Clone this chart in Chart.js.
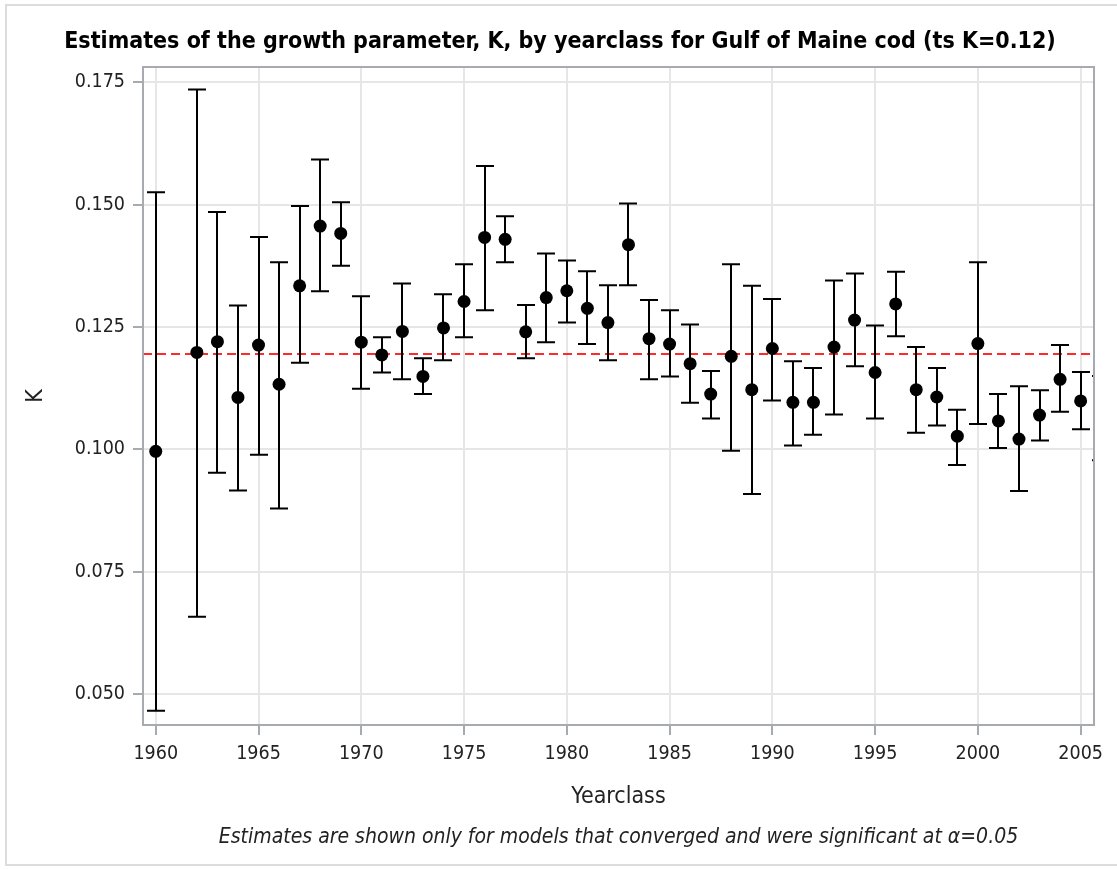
<!DOCTYPE html>
<html>
<head>
<meta charset="utf-8">
<script src="https://cdn.jsdelivr.net/npm/chart.js@4"></script>
<style>
  html, body { margin: 0; padding: 0; background: #fff; }
  #wrap { position: relative; width: 1117px; height: 869px; }
  #frame { position: absolute; left: 5px; top: 4px; right: -2px; bottom: 3px; border: 2px solid #dcdcdc; border-right: none; pointer-events: none; }
  canvas { position: absolute; left: 0; top: 0; }
</style>
</head>
<body>
<div id="wrap">
  <canvas id="kChart" width="1117" height="869"></canvas>
  <div id="frame"></div>
</div>
<script>
  // yearclass estimates of K with 95% limits
  const years = [1960, 1962, 1963, 1964, 1965, 1966, 1967, 1968, 1969, 1970,
    1971, 1972, 1973, 1974, 1975, 1976, 1977, 1978, 1979, 1980,
    1981, 1982, 1983, 1984, 1985, 1986, 1987, 1988, 1989, 1990,
    1991, 1992, 1993, 1994, 1995, 1996, 1997, 1998, 1999, 2000,
    2001, 2002, 2003, 2004, 2005, 2006];
  const kEstimate = [0.0996, 0.1198, 0.1220, 0.1106, 0.1213, 0.1133, 0.1334, 0.1456, 0.1441, 0.1219,
    0.1193, 0.1241, 0.1149, 0.1248, 0.1302, 0.1433, 0.1429, 0.1240, 0.1310, 0.1324,
    0.1288, 0.1259, 0.1418, 0.1226, 0.1215, 0.1175, 0.1113, 0.1190, 0.1122, 0.1206,
    0.1096, 0.1096, 0.1209, 0.1264, 0.1157, 0.1297, 0.1122, 0.1107, 0.1027, 0.1216,
    0.1058, 0.1021, 0.1070, 0.1143, 0.1099, 0.1063];
  const kLower = [0.0466, 0.0658, 0.0952, 0.0916, 0.0989, 0.0879, 0.1177, 0.1323, 0.1375, 0.1124,
    0.1157, 0.1143, 0.1113, 0.1182, 0.1229, 0.1284, 0.1382, 0.1186, 0.1219, 0.1259,
    0.1215, 0.1182, 0.1335, 0.1143, 0.1149, 0.1095, 0.1063, 0.0997, 0.0909, 0.1100,
    0.1008, 0.1030, 0.1071, 0.1170, 0.1063, 0.1231, 0.1034, 0.1049, 0.0968, 0.1052,
    0.1003, 0.0915, 0.1018, 0.1077, 0.1041, 0.0978];
  const kUpper = [0.1525, 0.1735, 0.1485, 0.1294, 0.1434, 0.1382, 0.1497, 0.1592, 0.1505, 0.1313,
    0.1229, 0.1339, 0.1186, 0.1317, 0.1378, 0.1579, 0.1476, 0.1295, 0.1400, 0.1386,
    0.1364, 0.1335, 0.1502, 0.1305, 0.1284, 0.1255, 0.1160, 0.1378, 0.1334, 0.1307,
    0.1180, 0.1166, 0.1345, 0.1359, 0.1253, 0.1363, 0.1209, 0.1166, 0.1081, 0.1382,
    0.1113, 0.1129, 0.1121, 0.1213, 0.1158, 0.1150];
  const refK = 0.1195;
  const xTicks = [1960, 1965, 1970, 1975, 1980, 1985, 1990, 1995, 2000, 2005];
  const yTicks = [0.050, 0.075, 0.100, 0.125, 0.150, 0.175];

  const FONT = "'DejaVu Sans Condensed', 'Liberation Sans', Arial, sans-serif";

  const errorBars = {
    id: 'errorBars',
    beforeDatasetsDraw(chart) {
      const { ctx, chartArea: a, scales: { x, y } } = chart;
      ctx.save();
      ctx.beginPath();
      ctx.rect(a.left, a.top, a.width, a.height);
      ctx.clip();

      const yr = y.getPixelForValue(refK);
      ctx.strokeStyle = '#ff2a2a';
      ctx.lineWidth = 2;
      ctx.setLineDash([9, 5]);
      ctx.beginPath();
      ctx.moveTo(a.left, yr);
      ctx.lineTo(a.right, yr);
      ctx.stroke();
      ctx.setLineDash([]);

      ctx.strokeStyle = '#000';
      ctx.lineWidth = 2;
      const cap = 9;
      years.forEach((yc, i) => {
        const px = Math.round(x.getPixelForValue(yc));
        const lo = y.getPixelForValue(kLower[i]);
        const hi = y.getPixelForValue(kUpper[i]);
        ctx.beginPath();
        ctx.moveTo(px, lo); ctx.lineTo(px, hi);
        ctx.moveTo(px - cap, lo); ctx.lineTo(px + cap, lo);
        ctx.moveTo(px - cap, hi); ctx.lineTo(px + cap, hi);
        ctx.stroke();
      });
      ctx.restore();
    },
    afterDraw(chart) {
      const { ctx, chartArea: a } = chart;
      ctx.save();
      ctx.strokeStyle = '#a7abaf';
      ctx.lineWidth = 2;
      ctx.strokeRect(a.left, a.top, a.width, a.height);
      ctx.restore();
    }
  };

  new Chart(document.getElementById('kChart'), {
    type: 'scatter',
    data: {
      datasets: [{
        label: 'K',
        data: years.map((yc, i) => ({ x: yc, y: kEstimate[i] })),
        pointRadius: 6.5,
        pointHoverRadius: 6.5,
        pointBackgroundColor: '#000',
        pointBorderColor: '#000',
        pointBorderWidth: 0
      }]
    },
    plugins: [errorBars],
    options: {
      responsive: false,
      animation: false,
      events: [],
      layout: { padding: { left: 26, right: 23, top: 0, bottom: 18.4 } },
      plugins: {
        legend: { display: false },
        tooltip: { enabled: false },
        title: {
          display: true,
          text: 'Estimates of the growth parameter, K, by yearclass for Gulf of Maine cod (ts K=0.12)',
          color: '#000',
          font: { family: FONT, size: 23, weight: 'bold' },
          padding: { top: 28.2, bottom: 11.2 }
        },
        subtitle: {
          display: true,
          position: 'bottom',
          fullSize: false,
          text: 'Estimates are shown only for models that converged and were significant at α=0.05',
          color: '#222',
          font: { family: FONT, size: 21, style: 'italic' },
          padding: { top: 10.4, bottom: 0 }
        }
      },
      scales: {
        x: {
          type: 'linear',
          min: 1959.38,
          max: 2005.65,
          afterBuildTicks: s => { s.ticks = xTicks.map(v => ({ value: v })); },
          afterFit: s => { s.height = 90; },
          grid: { color: '#e6e6e6', lineWidth: 2, tickColor: '#a7abaf', tickLength: 10 },
          border: { display: false },
          ticks: { color: '#222', font: { family: FONT, size: 19.5 }, padding: 7.3, maxRotation: 0, callback: v => String(v) },
          title: { display: true, text: 'Yearclass', color: '#222', font: { family: FONT, size: 23 }, padding: { top: 0, bottom: 4.2 } }
        },
        y: {
          type: 'linear',
          min: 0.0437,
          max: 0.1781,
          afterBuildTicks: s => { s.ticks = yTicks.map(v => ({ value: v })); },
          afterFit: s => { s.width = 117; },
          grid: { color: '#e6e6e6', lineWidth: 2, tickColor: '#a7abaf', tickLength: 10 },
          border: { display: false },
          ticks: { color: '#222', font: { family: FONT, size: 19.5 }, padding: 8, callback: v => v.toFixed(3) },
          title: { display: true, text: 'K', color: '#222', font: { family: FONT, size: 23 }, padding: { top: -3.4, bottom: 0 } }
        }
      }
    }
  });
</script>
</body>
</html>
